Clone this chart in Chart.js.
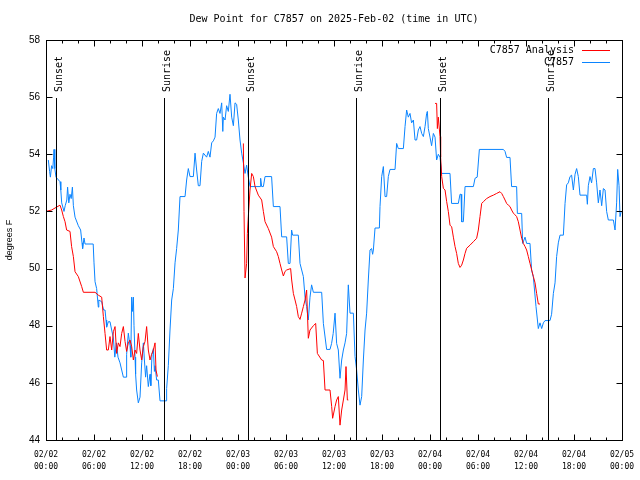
<!DOCTYPE html>
<html>
<head>
<meta charset="utf-8">
<script src="https://cdn.jsdelivr.net/npm/chart.js@4.4.1/dist/chart.umd.min.js"></script>
<style>
  body { margin: 0; background: #fff; }
  canvas { display: block; }
</style>
</head>
<body>
<canvas id="c" width="640" height="480"></canvas>
<script>
// dew point, hours since 2025-02-02 00:00 UTC
const obsHours = [
  0.29, 0.45, 0.55, 0.7, 0.85, 0.95, 1.0, 1.1, 1.25, 1.75, 1.85, 1.96, 2.25, 2.4, 2.6, 2.7, 2.85, 3.0, 3.15, 3.3,
  3.42, 3.63, 4.04, 4.33, 4.5, 4.58, 4.75, 4.88, 5.9, 6.0, 6.13, 6.33, 6.54, 6.6, 6.96, 7.2, 7.38, 7.5, 7.58, 7.79,
  8.0, 8.21, 8.42, 8.6, 8.8, 9.0, 9.25, 9.46, 9.67, 10.0, 10.08, 10.29, 10.5, 10.6, 10.71, 10.8, 10.92, 11.0, 11.13, 11.2,
  11.33, 11.54, 11.75, 11.96, 12.17, 12.3, 12.45, 12.58, 12.79, 13.0, 13.1, 13.25, 13.42, 13.55, 13.63, 13.83, 14.04, 14.25, 15.0, 15.08,
  15.29, 15.5, 15.71, 15.92, 16.13, 16.33, 16.54, 16.75, 17.38, 17.58, 17.79, 18.0, 18.42, 18.63, 18.83, 19.04, 19.25, 19.46, 19.67, 20.08,
  20.29, 20.5, 20.71, 20.92, 21.13, 21.33, 21.54, 21.75, 21.96, 22.1, 22.17, 22.38, 22.58, 22.79, 23.0, 23.21, 23.42, 23.63, 23.83, 24.04,
  24.25, 24.46, 24.67, 24.88, 25.08, 25.29, 25.5, 26.75, 26.83, 26.96, 27.17, 27.38, 28.2, 28.42, 29.25, 29.46, 30.08, 30.29, 30.5, 30.7,
  30.83, 31.54, 31.75, 32.17, 32.38, 32.58, 32.79, 33.0, 33.2, 33.42, 34.46, 34.67, 35.08, 35.5, 35.7, 35.9, 36.13, 36.33, 36.54, 36.75,
  36.96, 37.17, 37.38, 37.58, 37.79, 38.0, 38.42, 38.63, 38.83, 39.04, 39.25, 39.46, 39.67, 39.88, 40.08, 40.29, 40.5, 40.7, 40.83, 40.92,
  41.13, 41.67, 41.75, 41.96, 42.17, 42.38, 42.58, 42.79, 43.0, 43.63, 43.83, 44.04, 44.67, 44.88, 45.08, 45.29, 45.5, 45.7, 45.92, 46.13,
  46.33, 46.54, 46.75, 46.96, 47.17, 47.38, 47.58, 47.67, 47.79, 48.0, 48.2, 48.42, 48.63, 48.83, 49.04, 49.25, 49.46, 50.5, 50.7, 51.54,
  51.75, 51.88, 51.96, 52.17, 52.38, 53.42, 53.63, 53.9, 54.17, 57.17, 57.38, 57.58, 58.0, 58.2, 58.83, 58.92, 59.46, 59.58, 59.88, 60.08,
  60.5, 60.7, 60.92, 61.25, 61.54, 61.75, 61.96, 62.17, 62.38, 63.0, 63.2, 63.42, 63.63, 63.83, 64.04, 64.25, 64.67, 64.88, 65.08, 65.29,
  65.5, 65.7, 65.92, 66.13, 66.33, 66.54, 66.75, 67.58, 67.67, 67.79, 68.0, 68.2, 68.42, 68.63, 68.83, 69.04, 69.25, 69.46, 69.67, 69.88,
  70.08, 70.29, 70.92, 71.13, 71.33, 71.46, 71.63, 71.75, 71.9
];
const obsDewPt = [
  53.8, 53.4, 53.2, 53.6, 53.5, 53.9, 54.17, 53.5, 53.2, 53.04, 52.75, 52.3, 52.0, 52.2, 52.4, 52.85, 52.3, 52.6, 52.45, 52.85,
  52.2, 51.8, 51.5, 51.35, 50.9, 50.7, 51.07, 50.86, 50.86, 50.2, 49.54, 49.3, 48.65, 48.9, 48.84, 48.55, 48.55, 48.2, 47.95, 48.14,
  48.14, 47.85, 47.57, 46.9, 47.4, 46.9, 46.7, 46.45, 46.2, 46.2, 47.0, 47.74, 47.3, 46.9, 49.0, 48.5, 49.0, 48.0, 46.9, 46.3,
  45.75, 45.3, 45.5, 46.7, 47.4, 46.8, 46.2, 46.6, 45.87, 46.3, 45.9, 47.0, 47.2, 46.4, 46.6, 46.1, 46.1, 45.37, 45.37, 45.8,
  46.6, 47.85, 48.9, 49.3, 50.2, 50.7, 51.35, 52.52, 52.52, 53.1, 53.5, 53.22, 53.22, 54.04, 53.45, 52.9, 52.9, 53.75, 54.04, 53.9,
  54.1, 53.9, 54.4, 54.47, 54.6, 55.43, 55.6, 55.43, 55.8, 54.8, 55.3, 55.2, 55.7, 55.5, 56.1, 55.3, 55.0, 55.8, 55.75, 55.2,
  54.5, 54.04, 53.7, 53.33, 53.62, 53.2, 52.87, 52.87, 53.16, 52.87, 52.87, 53.22, 53.22, 52.17, 52.17, 51.11, 51.11, 50.18, 50.18, 51.35,
  51.17, 51.17, 50.18, 49.72, 49.0, 48.67, 48.2, 49.0, 49.43, 49.17, 49.17, 48.08, 47.17, 47.17, 47.38, 47.73, 48.44, 47.38, 47.15, 46.16,
  46.8, 47.15, 47.4, 47.73, 49.43, 48.44, 48.44, 46.92, 46.45, 45.75, 45.22, 45.52, 46.8, 47.85, 48.44, 49.6, 50.65, 50.7, 50.5, 50.65,
  51.42, 51.42, 52.17, 53.22, 53.57, 52.52, 52.52, 53.22, 53.47, 53.47, 54.38, 54.2, 54.2, 54.97, 55.55, 55.3, 55.43, 55.1, 55.2, 54.5,
  54.5, 54.85, 54.97, 54.73, 54.62, 54.97, 55.43, 55.5, 54.9, 54.6, 54.3, 54.73, 54.6, 53.8, 54.0, 53.9, 53.33, 53.33, 52.28, 52.28,
  52.6, 52.6, 51.64, 51.64, 52.87, 52.87, 53.16, 53.2, 54.17, 54.17, 54.1, 53.89, 53.89, 52.87, 52.87, 51.93, 51.93, 50.88, 51.1, 50.88,
  50.88, 49.95, 49.7, 48.67, 47.9, 48.1, 47.9, 48.1, 48.18, 48.18, 48.4, 49.13, 49.5, 50.42, 50.9, 51.17, 51.17, 52.28, 52.93, 53.0,
  53.22, 53.27, 52.75, 53.3, 53.5, 53.22, 52.57, 52.57, 52.25, 52.9, 53.22, 53.0, 53.5, 53.5, 53.0, 52.3, 52.75, 52.2, 52.8, 52.75,
  52.0, 51.7, 51.7, 51.35, 52.3, 53.47, 52.9, 51.82, 52.0
];

// analysis series, null = gap
const anaHours = [
  0.0, 0.7, 1.75, 1.96, 2.17, 2.38, 2.58, 3.0, 3.2, 3.42, 3.63, 4.04, 4.46, 4.67, 6.13, 6.54, 6.96, 7.17, 7.38, 7.58,
  7.79, 8.0, 8.21, 8.42, 8.63, 8.83, 9.04, 9.25, 9.46, 9.67, 9.88, 10.08, 10.29, 10.5, 10.71, 10.92, 11.13, 11.33, 11.54, 11.75,
  11.96, 12.17, 12.38, 12.58, 12.79, 13.0, 13.2, 13.42, 13.63, 13.75, 13.92, 18.0,
  24.67, 24.75, 24.88, 25.08, 25.17, 25.29, 25.5, 25.71, 25.92, 26.13, 26.54, 26.96, 27.17, 27.38, 27.79, 28.2, 28.42, 28.83,
  29.04, 29.25, 29.46, 29.67, 29.88, 30.08, 30.58, 30.71, 30.92, 31.13, 31.33, 31.54, 31.75, 31.96, 32.17, 32.38, 32.58, 32.79, 33.0, 33.42,
  33.71, 33.92, 34.46, 34.67, 34.88, 35.5, 35.71, 35.83, 36.13, 36.33, 36.54, 36.75, 36.96, 37.17, 37.38, 37.5, 37.67, 37.79, 42.0,
  48.63, 48.83, 48.92, 49.04, 49.25, 49.33, 49.46, 49.67, 49.88, 50.08, 50.29, 50.5, 50.71, 50.92, 51.13, 51.33, 51.54, 51.75, 51.96, 52.17,
  52.38, 52.58, 53.0, 53.42, 53.83, 54.04, 54.25, 54.46, 54.67, 55.08, 55.5, 55.92, 56.33, 56.75, 56.96, 57.17, 57.38, 57.58, 57.79, 58.0,
  58.2, 58.42, 58.63, 58.83, 59.04, 59.25, 59.46, 59.67, 59.88, 60.08, 60.29, 60.5, 60.71, 60.92, 61.13, 61.33, 61.54, 61.75
];
const anaDewPt = [
  52.0, 52.05, 52.22, 52.05, 51.82, 51.64, 51.35, 51.3, 50.77, 50.42, 49.89, 49.72, 49.37, 49.17, 49.17, 49.07, 49.0, 48.32, 47.73, 47.15,
  47.15, 47.62, 47.15, 47.79, 47.97, 47.03, 47.4, 47.27, 47.73, 47.97, 47.45, 47.1, 47.4, 47.5, 47.27, 46.8, 47.15, 47.03, 47.73, 47.15,
  46.8, 47.27, 47.45, 47.97, 47.15, 46.8, 47.0, 47.15, 47.4, 46.45, 46.22, null,
  54.38, 52.0, 49.67, 50.18, 51.23, 51.82, 52.75, 53.33, 53.22, 52.87, 52.57, 52.4, 52.0, 51.64, 51.4, 51.1, 50.77, 50.59,
  50.42, 50.18, 49.95, 49.74, 49.9, 49.95, 50.0, 49.6, 49.13, 48.9, 48.67, 48.32, 48.22, 48.44, 48.67, 48.9, 49.25, 47.56, 47.85, 48.0,
  48.08, 47.03, 46.8, 46.78, 45.75, 45.75, 45.17, 44.76, 45.17, 45.4, 45.52, 44.52, 45.05, 45.4, 45.75, 46.57, 45.4, 45.4, null,
  55.78, 55.78, 54.9, 55.3, 54.62, 53.9, 53.22, 52.81, 52.75, 52.35, 52.0, 51.52, 51.46, 51.1, 50.77, 50.53, 50.18, 50.04, 50.12, 50.3,
  50.53, 50.71, 50.82, 50.94, 51.06, 51.35, 51.82, 52.28, 52.34, 52.45, 52.52, 52.57, 52.63, 52.69, 52.63, 52.52, 52.4, 52.28, 52.22, 52.17,
  52.05, 51.94, 51.88, 51.82, 51.64, 51.35, 51.06, 50.88, 50.77, 50.65, 50.42, 50.18, 49.95, 49.72, 49.5, 49.13, 48.76, 48.76
];

const tickDates = ["02/02", "02/02", "02/02", "02/02", "02/03", "02/03", "02/03", "02/03", "02/04", "02/04", "02/04", "02/04", "02/05"];
const tickTimes = ["00:00", "06:00", "12:00", "18:00", "00:00", "06:00", "12:00", "18:00", "00:00", "06:00", "12:00", "18:00", "00:00"];

const sunHours = [1.25, 14.75, 25.25, 38.75, 49.25, 62.75];
const sunLabels = ["Sunset", "Sunrise", "Sunset", "Sunrise", "Sunset", "Sunrise"];

const seriesNames = ["C7857 Analysis", "C7857"];
const seriesColors = ["#ff0000", "#0a84ff"];

const MONO = "'DejaVu Sans Mono', monospace";

// frame, inward ticks, sun lines, title and key like gnuplot
const decorPlugin = {
  id: "decor",
  afterDatasetsDraw(chart) {
    const { ctx, chartArea: a, scales } = chart;
    const xs = scales.x, ys = scales.y;
    ctx.save();
    ctx.strokeStyle = "#000";
    ctx.lineWidth = 1;

    // sunrise / sunset markers
    sunHours.forEach((h, i) => {
      const px = Math.round(xs.getPixelForValue(h)) + 0.5;
      ctx.beginPath();
      ctx.moveTo(px, 98);
      ctx.lineTo(px, a.bottom);
      ctx.stroke();
      ctx.save();
      ctx.translate(px + 5.5, 92);
      ctx.rotate(-Math.PI / 2);
      ctx.fillStyle = "#000";
      ctx.font = "10px " + MONO;
      ctx.textAlign = "left";
      ctx.textBaseline = "alphabetic";
      ctx.fillText(sunLabels[i], 0, 0);
      ctx.restore();
    });

    // border
    const L = Math.round(a.left) + 0.5, R = Math.round(a.right) + 0.5;
    const T = Math.round(a.top) + 0.5, B = Math.round(a.bottom) + 0.5;
    ctx.strokeRect(L, T, R - L, B - T);

    // ticks
    ctx.beginPath();
    for (let h = 0; h <= 72; h += 2) {
      const px = Math.round(xs.getPixelForValue(h)) + 0.5;
      const len = h % 6 === 0 ? 6 : 3;
      ctx.moveTo(px, B); ctx.lineTo(px, B - len);
      ctx.moveTo(px, T); ctx.lineTo(px, T + len);
    }
    for (let v = 44; v <= 58; v += 2) {
      const py = Math.round(ys.getPixelForValue(v)) + 0.5;
      ctx.moveTo(L, py); ctx.lineTo(L + 6, py);
      ctx.moveTo(R, py); ctx.lineTo(R - 6, py);
    }
    ctx.stroke();

    // key
    ctx.font = "10px " + MONO;
    ctx.textAlign = "right";
    ctx.textBaseline = "middle";
    seriesNames.forEach((name, i) => {
      const y = 50 + i * 12;
      ctx.fillStyle = "#000";
      ctx.fillText(name, 574, y);
      ctx.strokeStyle = seriesColors[i];
      ctx.beginPath();
      ctx.moveTo(582, y + 0.5);
      ctx.lineTo(610, y + 0.5);
      ctx.stroke();
    });

    // title
    ctx.fillStyle = "#000";
    ctx.textAlign = "center";
    ctx.fillText("Dew Point for C7857 on 2025-Feb-02 (time in UTC)", 334, 19);
    ctx.restore();
  },
};

function toPoints(xsArr, ysArr) {
  return xsArr.map((x, i) => ({ x: x, y: ysArr[i] }));
}

new Chart(document.getElementById("c").getContext("2d"), {
  type: "line",
  data: {
    datasets: [
      {
        label: seriesNames[0],
        data: toPoints(anaHours, anaDewPt),
        borderColor: seriesColors[0],
        borderWidth: 1,
        pointRadius: 0,
        tension: 0,
        spanGaps: false,
      },
      {
        label: seriesNames[1],
        data: toPoints(obsHours, obsDewPt),
        borderColor: seriesColors[1],
        borderWidth: 1,
        pointRadius: 0,
        tension: 0,
      },
    ],
  },
  options: {
    responsive: false,
    animation: false,
    layout: { padding: { top: 40, right: 18, left: 0, bottom: 0 } },
    plugins: { legend: { display: false }, tooltip: { enabled: false } },
    scales: {
      x: {
        type: "linear",
        min: 0,
        max: 72,
        grid: { display: false, drawTicks: false },
        border: { display: false },
        afterFit: (s) => {
          s.height = 40;
          s.paddingLeft = 0;
          s.paddingRight = 0;
        },
        afterBuildTicks: (s) => {
          s.ticks = tickDates.map((_, i) => ({ value: i * 6 }));
        },
        ticks: {
          autoSkip: false,
          maxRotation: 0,
          padding: 9,
          color: "#000",
          font: { family: MONO, size: 8, lineHeight: 1.5 },
          callback: (v) => [tickDates[v / 6], tickTimes[v / 6]],
        },
      },
      y: {
        min: 44,
        max: 58,
        grid: { display: false, drawTicks: false },
        border: { display: false },
        afterFit: (s) => { s.width = 46; },
        ticks: {
          stepSize: 2,
          padding: 6,
          color: "#000",
          font: { family: "'Liberation Sans', sans-serif", size: 10 },
        },
        title: {
          display: true,
          text: "degrees F",
          color: "#000",
          font: { family: "'Liberation Sans', sans-serif", size: 9 },
          padding: { top: 4, bottom: 0 },
        },
      },
    },
  },
  plugins: [decorPlugin],
});
</script>
</body>
</html>
